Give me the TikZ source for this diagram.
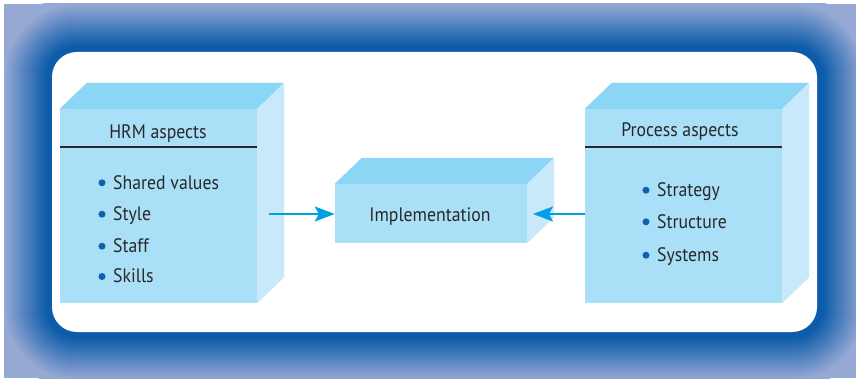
\documentclass[tikz,border=0pt]{standalone}
\usepackage{fontspec}
\setmainfont[FakeStretch=0.91]{PT Sans}
\usetikzlibrary{arrows.meta}
\definecolor{frameout}{RGB}{150,168,212}
\definecolor{framein}{RGB}{12,92,170}
\definecolor{frontc}{RGB}{170,223,248}
\definecolor{topc}{RGB}{140,214,245}
\definecolor{sidec}{RGB}{199,233,250}
\definecolor{txtc}{RGB}{40,40,40}
\definecolor{bulc}{RGB}{16,96,176}
\definecolor{arrc}{RGB}{0,160,226}
\tikzset{
  frontface/.style={fill=frontc, draw=none, inner sep=0pt},
  topface/.style={fill=topc},
  sideface/.style={fill=sidec},
  headtxt/.style={text=txtc, font=\fontsize{19.5}{22}\selectfont, inner sep=0pt, anchor=base},
  itemtxt/.style={text=txtc, font=\fontsize{19.5}{22}\selectfont, anchor=base west, inner sep=0pt},
  bulletdot/.style={fill=bulc, draw=none, circle, minimum size=7pt, inner sep=0pt},
  divider/.style={draw=txtc, line width=1.3pt},
  flowarrow/.style={draw=arrc, line width=2pt, -{Stealth[length=20pt,width=15pt,inset=4pt]}},
}
\newcommand{\boxfaces}[1]{%
  \fill[topface] (#1.north west) -- ++(27,-26) -- ([shift={(27,-26)}]#1.north east) -- (#1.north east) -- cycle;
  \fill[sideface] (#1.north east) -- ++(27,-26) -- ([shift={(27,-26)}]#1.south east) -- (#1.south east) -- cycle;
}
\begin{document}
\begin{tikzpicture}[x=1pt,y=-1pt]
\useasboundingbox (0,0) rectangle (856,379);
% frame with gradient
\begin{scope}
\clip (4,4) rectangle (856,378);
\fill[frameout] (4,4) rectangle (856,378);
\foreach \d in {56,55,...,0} {
  \pgfmathsetmacro\p{max(0,min(100,100*(1-(\d-6)/42)))}
  \pgfmathsetmacro\r{25+\d}
  \fill[framein!\p!frameout, rounded corners=\r pt] (52-\d,52-\d) rectangle (817+\d,332+\d);
}
\end{scope}
\fill[white, rounded corners=25pt] (52,52) rectangle (817,332);

% front faces
\node[frontface, minimum width=197pt, minimum height=194pt] (hrm) at (158.5,206) {};
\node[frontface, minimum width=192pt, minimum height=59pt] (impl) at (431,213.5) {};
\node[frontface, minimum width=197pt, minimum height=194pt] (proc) at (683.5,206) {};
\boxfaces{hrm}
\boxfaces{impl}
\boxfaces{proc}

% left box content
\node[headtxt] (hrmhead) at (158,138.3) {HRM aspects};
\draw[divider] (60,147) -- (257,147);
\node[bulletdot] (b1) at (102,182.8) {};
\node[itemtxt] (i1) at (113,189.3) {Shared values};
\node[bulletdot] (b2) at (102,214.2) {};
\node[itemtxt] (i2) at (113,220.7) {Style};
\node[bulletdot] (b3) at (102,246.2) {};
\node[itemtxt] (i3) at (113,252.7) {Staff};
\node[bulletdot] (b4) at (102,276.5) {};
\node[itemtxt] (i4) at (113,283) {Skills};

% middle
\node[headtxt] (impltxt) at (430,221.7) {Implementation};

% right box content
\node[headtxt] (prochead) at (680,136.7) {Process aspects};
\draw[divider] (585,147) -- (782,147);
\node[bulletdot] (c1) at (646,190.2) {};
\node[itemtxt] (j1) at (657,196.7) {Strategy};
\node[bulletdot] (c2) at (646,221.8) {};
\node[itemtxt] (j2) at (657,228.3) {Structure};
\node[bulletdot] (c3) at (646,255.2) {};
\node[itemtxt] (j3) at (657,261.7) {Systems};

% arrows
\coordinate (a1) at (269,214);
\coordinate (a2) at (533,214);
\draw[flowarrow] (a1) -- (impl.west |- a1);
\draw[flowarrow] (proc.west |- a2) -- (a2);
\end{tikzpicture}
\end{document}
